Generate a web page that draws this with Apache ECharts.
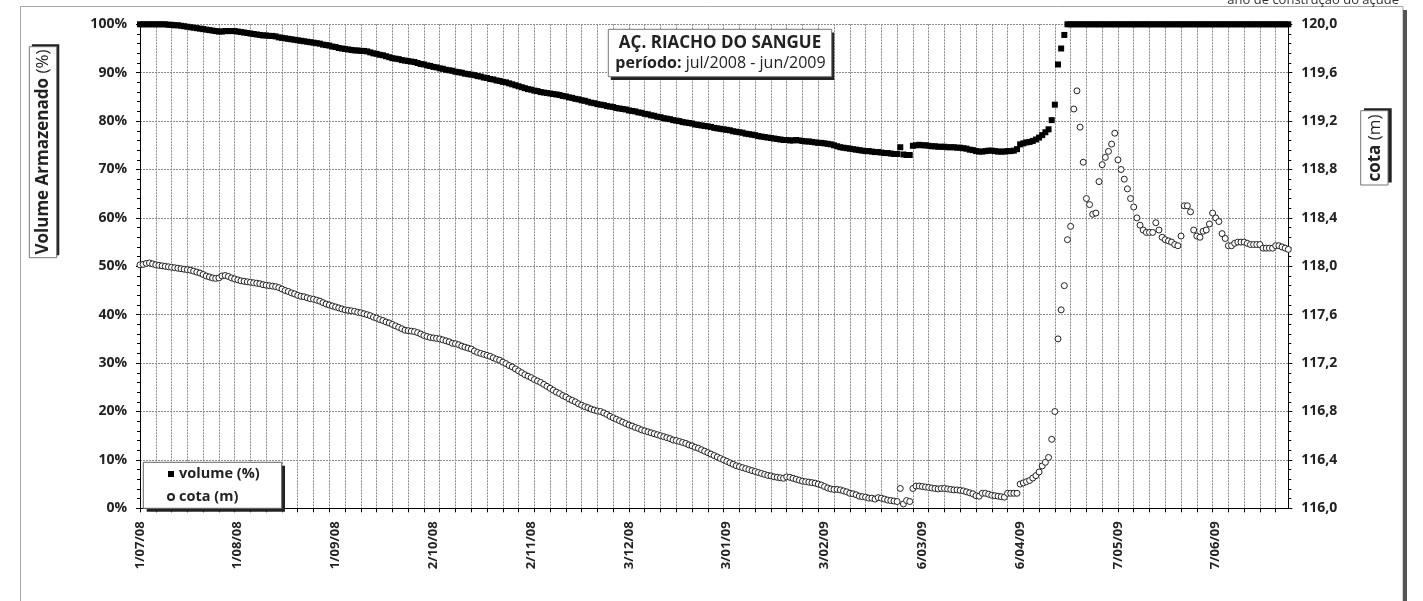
<!DOCTYPE html>
<html>
<head>
<meta charset="utf-8">
<script src="https://cdn.jsdelivr.net/npm/echarts@6/dist/echarts.min.js"></script>
<style>
html,body{margin:0;padding:0;background:#fff;}
#c{width:1423px;height:601px;}
</style>
</head>
<body>
<div id="c"></div>
<script>
// ---- DATA (daily readings, 1/07/2008 .. 30/06/2009) ----
const START_DATE = { year: 2008, month: 7, day: 1 };
const N_DAYS = 365;

// volume armazenado (%)
const volume = [
100,100,100,100,100,100,100,100,100,99.9,
99.9,99.8,99.8,99.7,99.6,99.5,99.4,99.3,99.2,99.1,
99.0,98.9,98.8,98.7,98.6,98.5,98.5,98.6,98.6,98.6,
98.6,98.5,98.4,98.3,98.2,98.1,98.0,97.9,97.8,97.7,
97.7,97.6,97.6,97.5,97.3,97.2,97.1,97.0,96.9,96.8,
96.7,96.6,96.5,96.4,96.3,96.2,96.1,96.0,95.8,95.7,
95.6,95.4,95.3,95.1,95.0,94.9,94.8,94.7,94.6,94.6,
94.5,94.5,94.4,94.2,94.0,93.9,93.7,93.6,93.4,93.2,
93.0,92.9,92.8,92.6,92.5,92.4,92.3,92.2,92.0,91.8,
91.7,91.5,91.4,91.2,91.1,90.9,90.8,90.6,90.5,90.4,
90.2,90.1,90.0,89.8,89.7,89.6,89.5,89.3,89.2,89.0,
88.9,88.7,88.6,88.4,88.3,88.1,88.0,87.8,87.6,87.4,
87.2,87.0,86.8,86.6,86.5,86.3,86.2,86.0,85.9,85.8,
85.7,85.6,85.5,85.4,85.2,85.1,84.9,84.8,84.6,84.5,
84.3,84.2,84.0,83.8,83.7,83.5,83.4,83.3,83.1,83.0,
82.9,82.7,82.6,82.5,82.4,82.2,82.1,82.0,81.8,81.7,
81.5,81.4,81.2,81.1,80.9,80.8,80.6,80.5,80.4,80.2,
80.1,80.0,79.8,79.7,79.6,79.5,79.3,79.2,79.1,79.0,
78.9,78.8,78.6,78.5,78.4,78.3,78.2,78.1,77.9,77.8,
77.7,77.6,77.4,77.3,77.2,77.1,76.9,76.8,76.7,76.6,
76.5,76.4,76.3,76.2,76.1,76.1,76.0,76.0,76.1,76.0,
75.9,75.8,75.8,75.7,75.6,75.5,75.5,75.4,75.3,75.2,
75.0,74.8,74.6,74.5,74.4,74.3,74.2,74.1,74.0,73.9,
73.8,73.8,73.7,73.6,73.6,73.5,73.4,73.4,73.3,73.2,
73.2,74.6,73.1,73.0,73.0,74.9,75.0,75.1,75.0,75.0,
74.9,74.8,74.8,74.7,74.7,74.7,74.6,74.6,74.6,74.5,
74.5,74.4,74.3,74.1,74.0,73.8,73.7,73.7,73.8,73.9,
73.9,73.8,73.7,73.7,73.7,73.8,73.8,73.9,74.2,75.2,
75.4,75.6,75.7,75.9,76.2,76.6,77.1,77.7,78.3,80.2,
83.4,91.7,95.0,97.8,100,100,100,100,100,100,
100,100,100,100,100,100,100,100,100,100,
100,100,100,100,100,100,100,100,100,100,
100,100,100,100,100,100,100,100,100,100,
100,100,100,100,100,100,100,100,100,100,
100,100,100,100,100,100,100,100,100,100,
100,100,100,100,100,100,100,100,100,100,
100,100,100,100,100
];

// cota (m)
const cota = [
118.012,118.016,118.024,118.028,118.020,118.012,118.008,118.004,118.000,117.996,
117.992,117.988,117.984,117.980,117.976,117.972,117.968,117.960,117.952,117.944,
117.932,117.920,117.912,117.904,117.900,117.904,117.920,117.924,117.916,117.904,
117.896,117.888,117.880,117.876,117.872,117.868,117.864,117.860,117.856,117.848,
117.844,117.840,117.836,117.832,117.824,117.812,117.800,117.792,117.780,117.772,
117.760,117.752,117.748,117.740,117.732,117.728,117.720,117.712,117.700,117.688,
117.680,117.672,117.664,117.656,117.648,117.640,117.636,117.632,117.628,117.620,
117.616,117.608,117.600,117.592,117.580,117.572,117.560,117.552,117.540,117.532,
117.520,117.508,117.496,117.484,117.472,117.468,117.464,117.460,117.452,117.440,
117.428,117.420,117.412,117.408,117.404,117.400,117.392,117.384,117.376,117.364,
117.360,117.352,117.340,117.332,117.324,117.316,117.300,117.288,117.280,117.272,
117.264,117.256,117.244,117.232,117.224,117.208,117.196,117.180,117.168,117.152,
117.136,117.120,117.104,117.092,117.080,117.064,117.052,117.040,117.024,117.008,
116.992,116.976,116.960,116.948,116.932,116.920,116.904,116.892,116.880,116.864,
116.852,116.840,116.832,116.820,116.812,116.804,116.800,116.788,116.776,116.760,
116.748,116.736,116.724,116.712,116.700,116.688,116.680,116.668,116.660,116.648,
116.640,116.632,116.624,116.616,116.608,116.600,116.592,116.584,116.576,116.564,
116.560,116.552,116.544,116.536,116.524,116.516,116.504,116.496,116.484,116.472,
116.460,116.448,116.436,116.424,116.412,116.400,116.388,116.376,116.364,116.352,
116.344,116.336,116.328,116.320,116.312,116.304,116.296,116.288,116.280,116.272,
116.268,116.260,116.256,116.252,116.248,116.260,116.256,116.248,116.240,116.232,
116.224,116.220,116.216,116.212,116.208,116.200,116.192,116.180,116.168,116.160,
116.156,116.156,116.152,116.144,116.136,116.124,116.120,116.112,116.100,116.096,
116.092,116.084,116.084,116.076,116.088,116.084,116.076,116.068,116.064,116.060,
116.056,116.164,116.036,116.064,116.056,116.164,116.184,116.184,116.180,116.176,
116.172,116.168,116.164,116.160,116.164,116.164,116.160,116.156,116.152,116.152,
116.148,116.144,116.136,116.128,116.120,116.104,116.100,116.124,116.124,116.116,
116.108,116.104,116.100,116.096,116.092,116.124,116.124,116.124,116.124,116.200,
116.21,116.22,116.23,116.25,116.27,116.30,116.35,116.38,116.42,116.57,
116.80,117.40,117.64,117.84,118.22,118.33,119.30,119.45,119.15,118.86,
118.56,118.51,118.43,118.44,118.70,118.84,118.90,118.95,119.01,119.10,
118.88,118.80,118.72,118.64,118.56,118.49,118.40,118.34,118.30,118.28,
118.28,118.28,118.36,118.30,118.24,118.22,118.21,118.20,118.18,118.17,
118.25,118.50,118.50,118.45,118.30,118.25,118.24,118.29,118.30,118.35,
118.44,118.40,118.37,118.27,118.23,118.17,118.17,118.19,118.20,118.20,
118.20,118.19,118.18,118.18,118.18,118.18,118.15,118.15,118.15,118.15,
118.17,118.17,118.16,118.15,118.14
];

const volumeAxis = { min: 0, max: 100, interval: 10 };
const cotaAxis = { min: 116, max: 120, interval: 0.4 };
const seriesNames = ['volume (%)', 'cota (m)'];
const titleText = 'AÇ. RIACHO DO SANGUE';
const periodLabel = 'período:';
const periodText = ' jul/2008 - jun/2009';
const leftAxisName = ['Volume Armazenado', ' (%)'];
const rightAxisName = ['cota', ' (m)'];
const topNote = 'ano de construção do açude';

// category labels d/mm/yy
const categories = [];
for (let i = 0; i < N_DAYS; i++) {
  const d = new Date(Date.UTC(START_DATE.year, START_DATE.month - 1, START_DATE.day + i));
  categories.push(d.getUTCDate() + '/' + String(d.getUTCMonth() + 1).padStart(2, '0') + '/' + String(d.getUTCFullYear() % 100).padStart(2, '0'));
}

const FONT = 'Open Sans';
const TXT = '#222';
const GRIDC = '#8c8c8c';

const chart = echarts.init(document.getElementById('c'), null, { renderer: 'canvas' });
chart.setOption({
  animation: false,
  backgroundColor: '#fff',
  textStyle: { fontFamily: FONT },
  grid: { left: 140, right: 134.7, top: 24.3, bottom: 92.7, containLabel: false },
  xAxis: {
    type: 'category',
    data: categories,
    boundaryGap: false,
    axisLine: { lineStyle: { color: '#000', width: 1 } },
    axisTick: { show: true, interval: 4, length: 4, lineStyle: { color: '#000' } },
    axisLabel: { interval: 30, rotate: 90, margin: 13, fontFamily: FONT, fontWeight: 'bold', fontSize: 13, color: TXT },
    splitLine: { show: true, interval: 4, lineStyle: { color: GRIDC, type: [2, 1], width: 1 } }
  },
  yAxis: [
    {
      type: 'value', position: 'left',
      min: volumeAxis.min, max: volumeAxis.max, interval: volumeAxis.interval,
      axisLine: { show: true, lineStyle: { color: '#000' } },
      axisTick: { show: true, length: 4, lineStyle: { color: '#000' } },
      minorTick: { show: true, splitNumber: 5, length: 3, lineStyle: { color: '#000' } },
      axisLabel: { formatter: '{value}%', margin: 13, fontFamily: FONT, fontWeight: 'bold', fontSize: 14, color: TXT },
      splitLine: { show: true, lineStyle: { color: GRIDC, type: [2, 1], width: 1 } }
    },
    {
      type: 'value', position: 'right',
      min: cotaAxis.min, max: cotaAxis.max, interval: cotaAxis.interval,
      axisLine: { show: true, lineStyle: { color: '#000' } },
      axisTick: { show: true, length: 4, lineStyle: { color: '#000' } },
      minorTick: { show: true, splitNumber: 5, length: 3, lineStyle: { color: '#000' } },
      axisLabel: { formatter: v => v.toFixed(1).replace('.', ','), margin: 13, fontFamily: FONT, fontWeight: 'bold', fontSize: 14, color: TXT },
      splitLine: { show: false }
    }
  ],
  legend: {
    orient: 'vertical', left: 167, top: 466, padding: 0,
    itemWidth: 6, itemHeight: 6, itemGap: 7, z: 300, selectedMode: false,
    textStyle: { fontFamily: FONT, fontWeight: 'bold', fontSize: 14.5, color: TXT, lineHeight: 16 },
    data: [{ name: seriesNames[0], icon: 'rect' }, { name: seriesNames[1], icon: 'circle' }]
  },
  series: [
    {
      name: seriesNames[0], type: 'scatter', yAxisIndex: 0, data: volume,
      symbol: 'rect', symbolSize: 6, silent: true, z: 3,
      itemStyle: { color: '#000', opacity: 1 }
    },
    {
      name: seriesNames[1], type: 'scatter', yAxisIndex: 1, data: cota,
      symbol: 'circle', symbolSize: 6, silent: true, z: 4,
      itemStyle: { color: '#fff', borderColor: '#222', borderWidth: 1, opacity: 1 }
    }
  ],
  graphic: {
    elements: [
      // outer frame + shadow
      { type: 'rect', silent: true, z: 1, shape: { x: 20.5, y: 6.5, width: 1382.5, height: 640 }, style: { fill: null, stroke: '#a6a6a6', lineWidth: 1 } },
      { type: 'rect', silent: true, z: 1, shape: { x: 1403, y: 10, width: 4, height: 640 }, style: { fill: '#555' } },
      { type: 'text', silent: true, z: 1, x: 1399, y: 0, style: { text: topNote, fontFamily: FONT, fontSize: 13, fill: '#333', align: 'right', verticalAlign: 'middle' } },
      // title box
      { type: 'rect', silent: true, z: 100, shape: { x: 610.8, y: 32.6, width: 223.4, height: 47.4 }, style: { fill: '#222' } },
      { type: 'rect', silent: true, z: 101, shape: { x: 608.3, y: 29.3, width: 223.4, height: 47.4 }, style: { fill: '#fff', stroke: '#777', lineWidth: 1 } },
      { type: 'text', silent: true, z: 102, x: 720, y: 43.5, style: { text: titleText, fontFamily: FONT, fontWeight: 'bold', fontSize: 17, fill: TXT, align: 'center', verticalAlign: 'middle' } },
      { type: 'text', silent: true, z: 102, x: 720.5, y: 63.5, style: { text: '{b|' + periodLabel + '}' + periodText, fontFamily: FONT, fontSize: 16, fill: TXT, align: 'center', verticalAlign: 'middle', rich: { b: { fontFamily: FONT, fontWeight: 'bold', fontSize: 16, fill: TXT } } } },
      // left axis name box
      { type: 'rect', silent: true, z: 100, shape: { x: 31.9, y: 44.3, width: 27.4, height: 211 }, style: { fill: '#222' } },
      { type: 'rect', silent: true, z: 101, shape: { x: 29.3, y: 46.7, width: 27.4, height: 211 }, style: { fill: '#fff', stroke: '#777', lineWidth: 1 } },
      { type: 'text', silent: true, z: 102, x: 43, y: 152, rotation: Math.PI / 2, style: { text: '{b|' + leftAxisName[0] + '}' + leftAxisName[1], fontFamily: FONT, fontSize: 17, fill: TXT, align: 'center', verticalAlign: 'middle', rich: { b: { fontFamily: FONT, fontWeight: 'bold', fontSize: 17, fill: TXT } } } },
      // right axis name box
      { type: 'rect', silent: true, z: 100, shape: { x: 1364, y: 108.3, width: 27.7, height: 74.3 }, style: { fill: '#222' } },
      { type: 'rect', silent: true, z: 101, shape: { x: 1360.7, y: 110.7, width: 27.3, height: 74.3 }, style: { fill: '#fff', stroke: '#777', lineWidth: 1 } },
      { type: 'text', silent: true, z: 102, x: 1375, y: 148, rotation: Math.PI / 2, style: { text: '{b|' + rightAxisName[0] + '}' + rightAxisName[1], fontFamily: FONT, fontSize: 17, fill: TXT, align: 'center', verticalAlign: 'middle', rich: { b: { fontFamily: FONT, fontWeight: 'bold', fontSize: 17, fill: TXT } } } },
      // legend box
      { type: 'rect', silent: true, z: 100, shape: { x: 146.7, y: 465.7, width: 138.3, height: 46 }, style: { fill: '#222' } },
      { type: 'rect', silent: true, z: 101, shape: { x: 143.3, y: 462.3, width: 138.4, height: 46 }, style: { fill: '#fff', stroke: '#666', lineWidth: 1 } }
    ]
  }
});
</script>
</body>
</html>
